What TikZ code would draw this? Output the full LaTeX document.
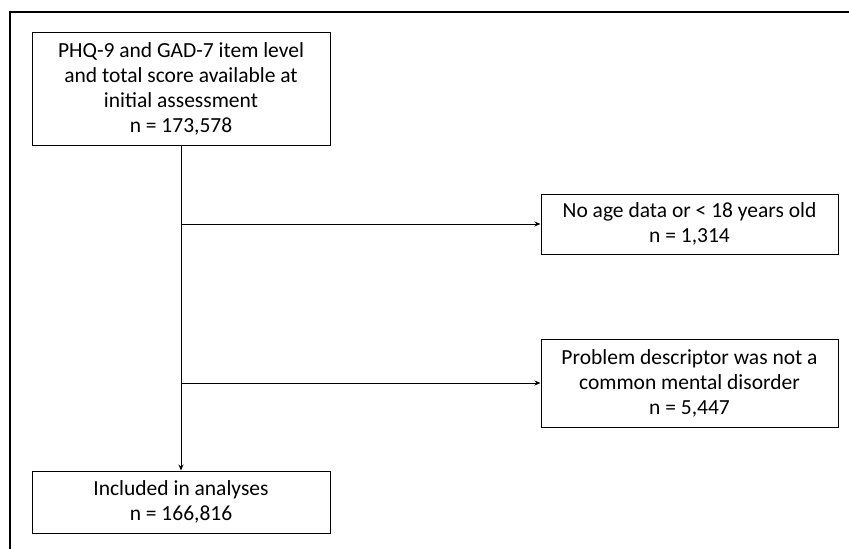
\documentclass[tikz,border=0pt]{standalone}
\usepackage{fontspec}
\setmainfont{Carlito}
\usetikzlibrary{arrows.meta}
\begin{document}
\begin{tikzpicture}[
  x=1pt, y=-1pt,
  font=\fontsize{21.5}{25}\selectfont,
  box/.style={draw, line width=1pt, align=center, inner sep=0pt},
  flow/.style={draw, line width=1pt, -{Stealth[length=6pt,width=5pt]}}
]
\useasboundingbox (0,0) rectangle (849,549);
\draw[line width=1.4pt] (10,549) -- (10,12) -- (849,12);
\node[box, minimum width=298pt, minimum height=113pt] (start) at (181,88.5)
  {PHQ-9 and GAD-7 item level\\and total score available at\\initial assessment\\n = 173,578};
\node[box, minimum width=297pt, minimum height=60pt] (age) at (689.5,224)
  {No age data or < 18 years old\\n = 1,314};
\node[box, minimum width=297pt, minimum height=88pt] (cmd) at (689.5,383)
  {Problem descriptor was not a\\common mental disorder\\n = 5,447};
\node[box, minimum width=298pt, minimum height=62pt] (final) at (181,502)
  {Included in analyses\\n = 166,816};
\draw[flow] (start) -- (final);
\draw[flow] (start.south |- age.west) -- (age.west);
\draw[flow] (start.south |- cmd.west) -- (cmd.west);
\end{tikzpicture}
\end{document}
